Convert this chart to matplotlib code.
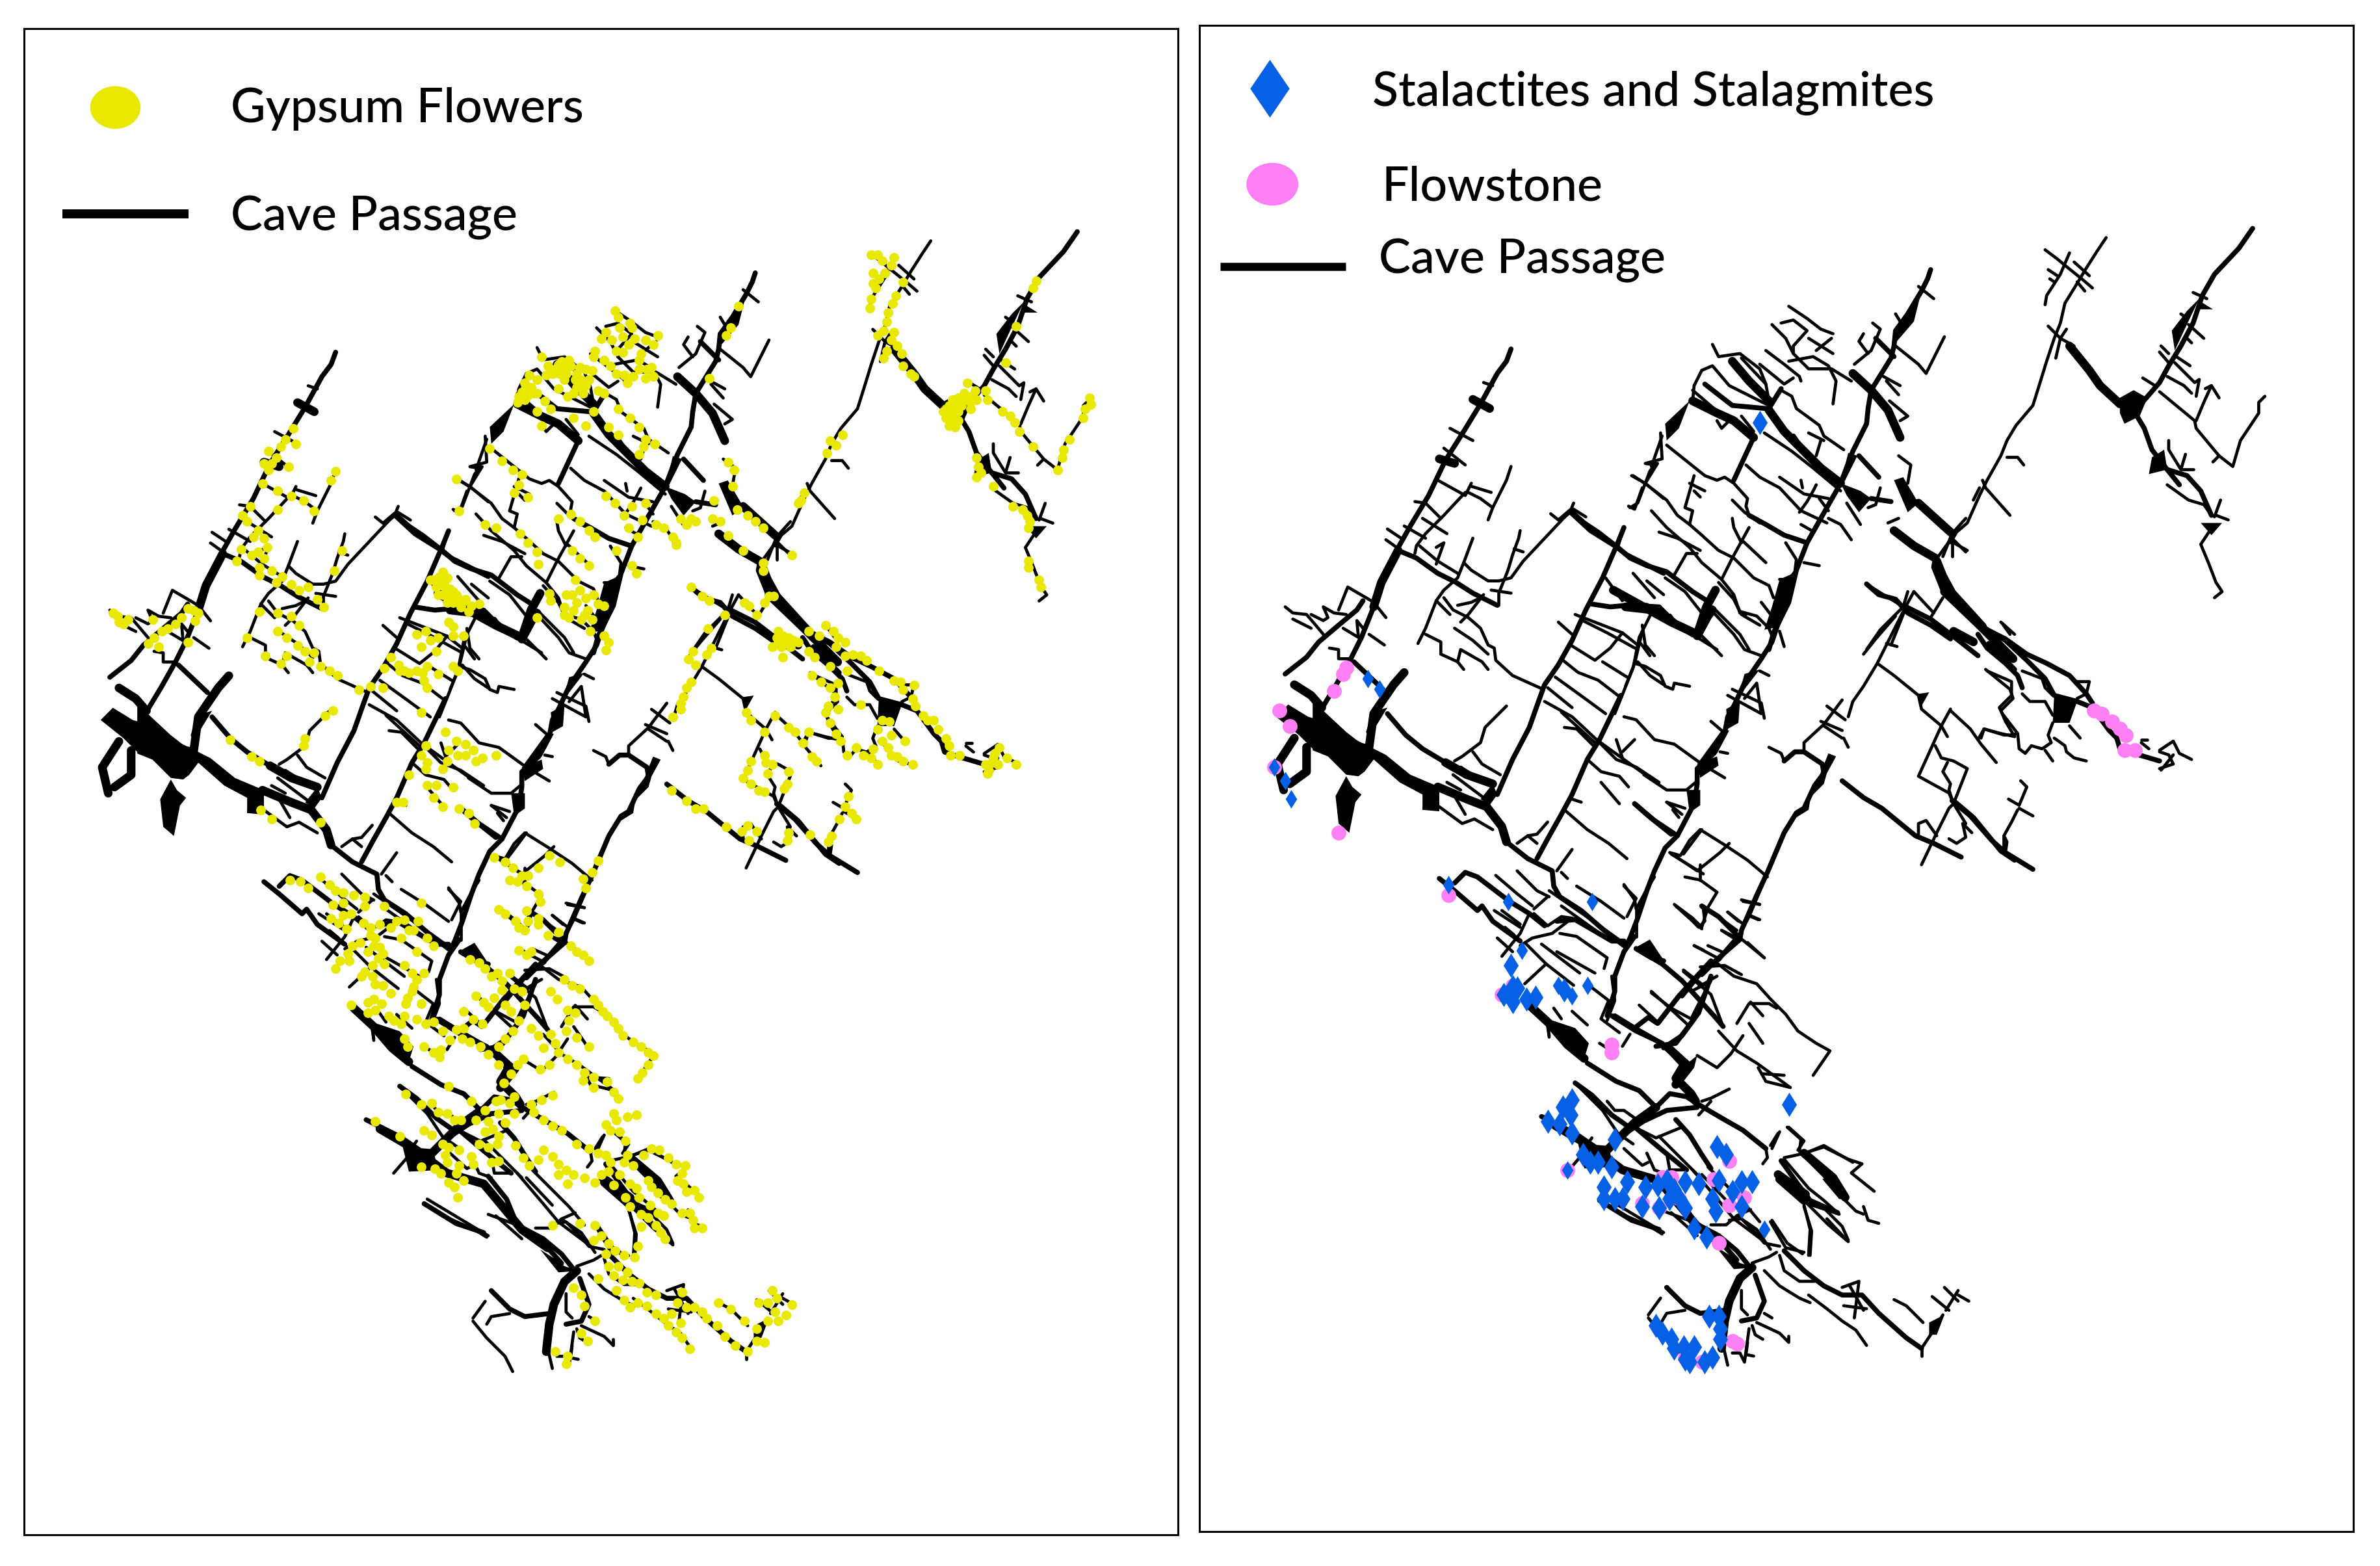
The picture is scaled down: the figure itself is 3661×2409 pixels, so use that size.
import matplotlib
matplotlib.use('Agg')
import matplotlib.pyplot as plt
from matplotlib.patches import Ellipse

plt.rcParams['font.family'] = ['Lato', 'DejaVu Sans']

# map coordinates, same for both panels
big_polygons = [
    [(66,472),(74,464),(87,472),(101,476),(112,484),(124,490),(138,497),(154,510),(173,518),(173,534),(162,533),(162,523),(147,515),(130,500),(124,508),(120,511),(108,500),(90,493),(81,484)],
    [(126,490),(139,500),(156,513),(172,518),(173,529),(162,533),(163,523),(156,519),(147,511),(139,503),(126,498),(120,511),(112,510),(100,498),(90,494),(90,461),(98,469),(112,482),(121,489)],
    [(112,511),(116,518),(122,523),(118,528),(114,548),(107,542),(105,524)],
    [(139,466),(131,479),(129,490),(125,482),(129,469)],
    [(489,193),(484,213),(472,227),(471,219)],
    [(441,299),(447,301),(438,319),(436,319)],
    [(471,317),(477,315),(487,332),(480,338)],
    [(396,382),(405,378),(402,399),(396,413),(386,415),(391,400)],
    [(436,319),(449,324),(456,329),(448,338),(440,327)],
    [(337,265),(330,283),(322,291),(321,280)],
    [(671,198),(661,219),(655,232),(653,219),(663,206)],
    [(671,205),(680,205),(672,200)],
    [(619,263),(628,258),(637,263),(632,275),(622,280),(619,273)],
    [(640,302),(648,297),(650,310),(638,313)],
    [(672,345),(686,345),(679,353)],
    [(373,444),(383,441),(373,454),(368,462)],
    [(361,467),(370,462),(369,476),(362,480)],
    [(358,481),(363,481),(355,496),(342,503)],
    [(342,503),(355,498),(356,504),(344,512)],
    [(344,520),(344,530),(337,535),(335,520)],
    [(428,496),(433,498),(427,509),(425,516),(417,524),(422,511)],
    [(409,533),(416,527),(415,533),(407,538)],
    [(487,457),(494,456),(489,465)],
    [(576,457),(591,462),(586,476),(575,476)],
    [(332,702),(342,694),(340,702),(333,711)],
    [(354,819),(365,826),(370,830),(380,833),(366,834)],
    [(424,775),(430,773),(440,789),(435,788)],
    [(494,869),(504,864),(499,877),(494,877)],
    [(302,623),(311,618),(321,633)],
    [(264,752),(285,758),(287,767),(268,768)],
    [(247,671),(262,676),(271,686),(268,696),(257,687)],
    [(208,516),(211,523),(206,530),(200,526)],
]

thick_passages = [
    [(78,486),(67,503),(71,520)],
    [(86,492),(86,508),(75,516)],
    [(78,451),(89,458),(96,466)],
    [(150,443),(143,451),(130,470),(127,492)],
    [(146,363),(135,384),(130,400)],
    [(436,319),(423,309),(410,296),(399,285),(389,271)],
    [(379,289),(366,278),(355,273),(339,265)],
    [(365,239),(376,252),(389,265)],
    [(444,247),(456,258),(467,271),(475,289)],
    [(471,350),(484,360),(498,368)],
    [(487,332),(508,351)],
    [(499,370),(503,380),(509,391),(529,413)],
    [(586,229),(599,245),(606,255),(619,267)],
    [(504,390),(526,411),(549,434)],
    [(354,389),(348,400),(342,418)],
    [(352,402),(349,406),(342,419)],
    [(232,661),(245,673),(257,687),(268,696)],
    [(315,728),(301,738),(283,756),(270,755)],
    [(378,833),(370,840),(363,855),(360,868),(358,886)],
    [(412,758),(431,774),(439,787)],
    [(395,772),(413,785)],
    [(396,775),(412,789)],
    [(195,264),(206,270)],
    [(173,303),(183,306)],
    [(510,416),(523,423)],
    [(295,400),(313,402),(326,410)],
    [(287,389),(325,410),(342,418)],
    [(334,699),(328,709),(338,719),(341,724)],
    [(172,518),(191,526),(204,531),(214,544),(217,554)],
    [(177,502),(191,510),(208,516)],
    [(249,740),(273,754),(293,769),(317,776),(342,806),(359,818)],
    [(323,689),(335,700)],
    [(335,700),(328,713)],
]

medium_passages = [
    [(220,231),(217,239),(211,247),(200,267),(189,285),(177,304),(166,327),(154,347),(145,363),(135,384),(130,400),(122,420),(115,434),(106,450),(97,465)],
    [(146,363),(158,368),(172,378),(184,384),(195,391),(211,399)],
    [(259,338),(272,350),(288,360),(296,366),(320,378)],
    [(294,348),(290,358),(280,381),(269,402),(260,422),(251,438),(242,451),(238,462),(232,479),(221,500),(211,523)],
    [(272,398),(285,400),(296,399),(309,399)],
    [(72,444),(86,433),(94,423),(107,412),(119,402),(123,396)],
    [(117,436),(136,454)],
    [(139,470),(151,484),(162,493),(177,502)],
    [(495,179),(493,185),(489,193),(480,208),(472,219),(471,229),(469,237),(456,258),(454,270),(453,280),(444,298),(436,319),(423,342),(414,358),(407,376),(402,397),(392,417),(389,428)],
    [(456,329),(469,331)],
    [(379,289),(366,317)],
    [(397,257),(389,270)],
    [(376,340),(387,346),(399,353),(414,358)],
    [(405,288),(412,298),(415,302),(422,307)],
    [(448,301),(461,315)],
    [(459,224),(471,236)],
    [(347,254),(365,268),(387,270)],
    [(252,343),(259,337),(268,345),(277,351),(290,361),(298,368),(309,373),(322,377),(339,390),(350,397)],
    [(299,399),(317,400),(329,412)],
    [(453,385),(461,392),(472,395),(480,404),(495,412),(508,421)],
    [(498,368),(497,374),(503,389)],
    [(706,152),(697,165),(681,182),(673,196),(667,214),(659,229),(651,242),(645,253),(632,268),(628,273)],
    [(629,273),(635,283),(640,297),(650,310),(658,320)],
    [(650,310),(663,314),(672,324),(679,340)],
    [(402,387),(396,408),(391,423),(384,434),(373,450),(366,465),(362,472),(360,483),(353,496),(342,506),(342,516),(340,529),(329,550),(321,558),(314,573),(309,586),(303,604),(298,617),(295,623)],
    [(324,406),(329,413),(342,419)],
    [(399,501),(406,495),(412,495),(424,503),(425,509),(419,517),(412,532),(407,535),(399,548),(388,574),(381,589),(371,612),(370,618),(355,631),(345,641)],
    [(437,514),(451,525),(463,532),(485,550),(497,555),(515,564)],
    [(510,527),(523,538),(541,560),(550,566)],
    [(479,400),(495,408),(512,421),(526,432)],
    [(533,424),(550,441)],
    [(534,416),(544,421),(558,431),(571,437),(586,445),(597,457),(601,463)],
    [(526,418),(532,427),(544,437),(552,445),(555,453)],
    [(529,413),(544,422),(558,435),(570,447),(576,458),(591,462),(601,466),(612,481),(617,486)],
    [(617,486),(619,493),(628,496),(645,501)],
    [(509,527),(521,537),(535,553),(544,561),(562,572)],
    [(301,529),(314,540),(329,550)],
    [(250,606),(262,605),(286,619),(294,619)],
    [(302,624),(319,634),(332,645),(353,668),(359,675)],
    [(301,616),(294,626),(288,642),(288,652),(283,668)],
    [(288,668),(301,676),(315,684),(324,691)],
    [(301,676),(310,669),(316,673),(330,655),(351,632)],
    [(369,616),(356,631),(345,639),(332,655)],
    [(315,688),(328,686),(340,670)],
    [(351,642),(343,666),(332,681),(320,689)],
    [(345,596),(356,603),(369,616)],
    [(270,699),(289,711),(304,717),(315,728)],
    [(341,725),(358,735),(372,743),(387,755)],
    [(315,728),(324,719),(335,721),(341,725)],
    [(262,712),(273,720),(286,733),(296,740)],
    [(328,736),(337,746),(345,759),(351,768)],
    [(278,789),(299,802),(317,808)],
    [(359,818),(368,828)],
    [(397,763),(407,777),(416,789),(434,797)],
    [(380,838),(386,855),(381,866),(371,868)],
    [(322,846),(334,858),(344,863),(360,861)],
    [(399,822),(412,835),(425,845),(437,851),(450,851),(461,863),(479,879),(489,886)],
    [(377,833),(369,840)],
    [(240,734),(262,745),(281,758)],
    [(300,740),(319,756),(335,769)],
    [(217,554),(231,565),(237,568),(247,573),(248,583),(252,590),(266,599),(281,612),(294,622)],
    [(237,565),(244,552),(253,536),(260,523),(270,500),(278,487),(292,458)],
    [(301,529),(310,537),(325,549)],
    [(173,578),(183,586),(198,599),(201,596),(208,606),(226,619)],
    [(183,581),(190,574),(198,577),(219,593),(232,601),(242,609)],
    [(302,624),(312,630),(320,632)],
    [(292,747),(307,737),(322,730),(342,728)],
    [(320,771),(332,786),(339,803),(356,812),(368,822),(376,832)],
    [(286,668),(302,678),(319,686),(332,700)],
]

thin_passages = [
    [(202,253),(208,255)],
    [(180,283),(195,291)],
    [(176,296),(190,307)],
    [(172,317),(190,327),(194,319)],
    [(190,325),(176,340),(164,352),(158,360),(157,365)],
    [(194,321),(207,325)],
    [(192,325),(200,329),(208,335)],
    [(220,308),(217,317),(208,335),(205,343)],
    [(157,331),(164,332),(174,342)],
    [(162,342),(178,352)],
    [(150,347),(164,355)],
    [(139,349),(148,355)],
    [(138,356),(145,361)],
    [(160,360),(172,370),(185,378)],
    [(171,361),(176,358),(171,372)],
    [(195,355),(189,371),(185,381),(176,389),(171,396),(164,414),(159,424)],
    [(189,371),(194,376),(205,383),(212,383),(220,381),(228,370),(259,337),(261,332)],
    [(226,350),(225,355),(221,366),(218,376),(212,391),(212,399)],
    [(228,364),(222,362)],
    [(220,391),(207,389)],
    [(246,339),(251,343)],
    [(261,336),(269,341)],
    [(299,314),(308,319),(320,329)],
    [(309,306),(316,306),(308,319),(303,332),(298,335)],
    [(312,308),(319,288)],
    [(176,394),(182,402),(192,407),(200,414),(205,425),(209,427),(210,435),(221,445),(241,454)],
    [(171,396),(180,405)],
    [(202,392),(192,405),(187,410)],
    [(185,399),(194,397),(200,394)],
    [(183,414),(195,422),(205,431)],
    [(164,418),(174,423),(174,431),(185,436),(189,441)],
    [(185,436),(187,428),(201,436),(205,441)],
    [(72,400),(77,404),(86,405),(92,412),(97,418)],
    [(77,408),(89,414)],
    [(89,405),(97,409),(100,407),(97,400),(104,404),(112,405)],
    [(107,402),(113,387),(125,394),(130,397),(138,407)],
    [(110,414),(120,420),(119,409),(123,414)],
    [(127,418),(137,425)],
    [(101,427),(107,428),(107,434),(115,434)],
    [(262,405),(293,417),(303,425)],
    [(267,409),(283,417),(303,428)],
    [(251,410),(260,418)],
    [(259,425),(275,435),(285,427),(293,417)],
    [(280,436),(296,446)],
    [(254,435),(264,443),(277,448),(290,458)],
    [(249,446),(267,459),(282,470)],
    [(244,453),(260,466)],
    [(282,381),(293,396)],
    [(309,383),(320,392)],
    [(300,378),(314,394)],
    [(306,412),(308,425),(314,432)],
    [(313,402),(304,420),(300,440),(288,470)],
    [(303,436),(311,445),(320,451)],
    [(322,294),(337,306),(347,314),(355,317),(360,315),(366,319),(375,329),(374,334),(376,340)],
    [(308,319),(311,311),(314,307),(308,306),(319,303),(318,286)],
    [(300,314),(309,320),(322,330),(329,340),(337,346),(345,353),(356,363),(366,368),(379,381),(389,386),(392,394)],
    [(306,322),(301,336),(297,334)],
    [(340,314),(334,335),(339,337),(337,346)],
    [(337,319),(347,324)],
    [(340,324),(344,328)],
    [(312,337),(322,348),(337,361),(345,371),(358,382)],
    [(317,351),(329,355),(344,363)],
    [(374,307),(383,315),(396,322),(410,337),(427,345)],
    [(396,315),(412,326),(428,329)],
    [(410,317),(411,322)],
    [(420,320),(418,324),(414,331),(409,338)],
    [(422,329),(428,337)],
    [(428,342),(436,346),(443,356)],
    [(410,346),(417,350)],
    [(397,258),(404,262),(407,270),(422,281),(425,288),(438,297)],
    [(415,286),(425,291)],
    [(423,291),(420,301)],
    [(386,286),(404,298),(418,309),(436,324)],
    [(472,229),(487,241),(492,247),(504,223)],
    [(464,249),(475,255)],
    [(466,252),(474,261)],
    [(468,265),(480,275),(475,278)],
    [(445,241),(456,232),(462,218),(457,214)],
    [(451,221),(448,226),(454,234)],
    [(472,208),(475,213)],
    [(487,190),(497,198)],
    [(402,203),(414,211),(423,218),(431,221)],
    [(391,215),(400,224),(405,234),(415,244),(430,244),(443,252)],
    [(397,214),(405,212),(414,219),(405,229),(405,234)],
    [(415,224),(431,234)],
    [(420,232),(430,224)],
    [(387,232),(399,241),(409,249),(410,252)],
    [(402,239),(418,236),(428,242),(433,252),(431,267)],
    [(352,228),(356,236),(370,234),(383,244),(387,254),(389,265)],
    [(345,245),(352,242),(363,255),(379,263),(389,268)],
    [(345,245),(340,255),(339,265),(350,271),(366,276)],
    [(339,258),(353,270)],
    [(371,237),(387,254)],
    [(383,241),(399,254),(405,250)],
    [(355,278),(358,283),(363,278)],
    [(371,275),(379,285)],
    [(290,361),(293,350)],
    [(327,379),(335,365),(342,365)],
    [(321,381),(334,390),(345,404),(343,417)],
    [(356,384),(366,395),(371,405),(383,412)],
    [(352,400),(370,418),(376,428)],
    [(329,412),(342,420),(355,428)],
    [(371,356),(387,371)],
    [(376,348),(365,368),(358,382)],
    [(365,342),(366,348),(371,358)],
    [(365,330),(373,338),(383,345)],
    [(400,358),(407,369),(406,377),(402,382),(396,382)],
    [(412,371),(422,373)],
    [(384,397),(394,410)],
    [(358,382),(366,392),(370,404),(374,405)],
    [(500,367),(508,356)],
    [(480,390),(477,400),(462,415),(453,428)],
    [(479,400),(469,425)],
    [(484,390),(497,404)],
    [(503,394),(495,407)],
    [(440,332),(449,346)],
    [(454,335),(459,333),(462,322)],
    [(467,345),(474,342)],
    [(474,301),(482,307),(480,319)],
    [(667,194),(676,198)],
    [(659,208),(663,211)],
    [(664,215),(674,224)],
    [(663,224),(666,227)],
    [(646,229),(651,234)],
    [(645,233),(651,240)],
    [(656,236),(665,242)],
    [(655,240),(668,253),(671,251),(669,262)],
    [(650,249),(661,255),(666,260)],
    [(634,250),(642,255)],
    [(645,259),(668,278),(669,283),(684,301),(693,308),(698,291),(710,273),(710,266),(714,262)],
    [(669,278),(674,266),(679,255),(684,263)],
    [(679,255),(675,257)],
    [(684,301),(680,305)],
    [(651,291),(651,297),(659,310),(662,300)],
    [(659,310),(667,310)],
    [(650,320),(664,330),(674,333),(679,340)],
    [(685,330),(681,341)],
    [(682,340),(690,343)],
    [(678,350),(672,359),(677,371),(682,384),(686,390),(681,394)],
    [(610,158),(604,167),(597,178),(591,188),(583,201),(580,214),(576,224),(571,239),(567,252),(562,268),(551,281),(545,291),(541,301),(532,317),(527,327),(519,345),(512,351),(508,358)],
    [(570,166),(578,172),(584,177),(594,185),(601,191)],
    [(586,168),(580,182),(571,196),(570,202)],
    [(572,179),(578,183)],
    [(573,185),(576,187)],
    [(589,174),(599,183)],
    [(591,187),(596,193)],
    [(572,216),(580,224),(589,229)],
    [(584,218),(580,224),(577,237)],
    [(545,302),(552,302),(556,307)],
    [(529,317),(531,322),(547,340)],
    [(527,322),(523,330)],
    [(510,358),(519,363)],
    [(509,353),(509,367)],
    [(352,403),(366,418),(373,428),(384,432)],
    [(383,442),(389,445)],
    [(396,416),(399,426)],
    [(362,458),(384,470),(381,450),(373,460)],
    [(365,454),(384,463),(386,473)],
    [(351,475),(358,481)],
    [(357,495),(362,496)],
    [(350,506),(360,512)],
    [(344,418),(358,432)],
    [(329,413),(339,419),(344,419)],
    [(301,437),(308,439),(318,445),(321,452),(326,454),(327,450),(337,452)],
    [(305,424),(311,432)],
    [(295,452),(301,437),(306,416)],
    [(365,393),(370,403),(381,406),(389,414),(391,419)],
    [(389,492),(397,496),(399,501)],
    [(412,494),(412,489),(425,477),(437,461)],
    [(438,486),(441,492)],
    [(427,465),(439,474)],
    [(423,475),(437,481)],
    [(425,478),(437,486)],
    [(441,472),(444,462),(451,452),(460,437),(478,401),(484,390)],
    [(451,431),(459,421),(472,406)],
    [(466,424),(473,426)],
    [(460,437),(471,445),(487,458),(489,467),(502,478),(487,511),(507,522),(510,529)],
    [(502,478),(506,485)],
    [(508,467),(502,478)],
    [(508,468),(521,480),(528,490),(538,502)],
    [(528,486),(530,480),(541,483),(550,485)],
    [(498,491),(502,499),(510,501),(519,506),(510,529)],
    [(506,502),(503,508),(508,516),(507,520),(510,529)],
    [(510,529),(507,532),(499,548),(489,569)],
    [(487,550),(487,542),(492,540),(499,550)],
    [(507,552),(512,555),(518,551),(516,542),(522,548)],
    [(510,529),(518,542)],
    [(543,550),(543,558)],
    [(531,441),(547,454),(549,460),(541,468),(544,475),(550,485)],
    [(541,410),(550,418)],
    [(453,385),(464,392),(474,398)],
    [(555,442),(568,447),(570,453),(575,458)],
    [(555,457),(560,462),(570,462),(575,471)],
    [(575,476),(572,484),(574,489),(568,493),(561,491),(557,496),(553,493),(552,483),(547,484),(543,484),(530,480),(526,487)],
    [(552,483),(542,470),(540,466),(548,458),(548,449),(532,442)],
    [(586,478),(593,486)],
    [(576,486),(583,491),(584,495),(589,499),(597,501)],
    [(570,494),(575,501)],
    [(591,460),(597,457),(599,449),(591,449)],
    [(542,411),(547,418)],
    [(633,487),(637,487)],
    [(633,489),(638,493)],
    [(645,494),(654,488),(658,496),(666,500)],
    [(645,506),(654,503),(651,497),(645,495)],
    [(646,507),(654,497)],
    [(552,533),(548,541),(543,550),(545,554),(544,561)],
    [(554,514),(558,518),(553,530),(546,526)],
    [(553,532),(562,537)],
    [(518,342),(509,352),(503,367)],
    [(508,354),(518,364)],
    [(322,528),(334,532)],
    [(326,533),(330,538)],
    [(344,546),(337,553),(331,563),(324,561),(342,573),(357,561),(363,555)],
    [(344,546),(360,556),(375,566),(388,577)],
    [(334,577),(344,579),(355,587),(349,597),(345,610),(339,604),(327,595)],
    [(344,569),(344,579)],
    [(371,592),(383,595)],
    [(376,602),(383,605)],
    [(362,600),(371,607)],
    [(345,597),(357,604),(368,612)],
    [(358,612),(370,618)],
    [(340,622),(357,631)],
    [(349,622),(358,626)],
    [(375,620),(386,630)],
    [(344,636),(360,635),(371,641)],
    [(217,465),(203,479),(200,489),(188,498),(183,501)],
    [(195,495),(201,503),(213,510)],
    [(187,505),(198,512)],
    [(182,510),(202,525)],
    [(178,515),(187,520)],
    [(173,531),(188,542),(196,539),(208,546)],
    [(183,524),(190,536)],
    [(224,555),(231,550),(237,555)],
    [(244,541),(237,549),(231,550)],
    [(242,462),(260,472),(276,487),(294,500),(315,515)],
    [(253,469),(275,489)],
    [(255,479),(263,480),(275,492)],
    [(278,489),(289,500),(302,505),(317,515)],
    [(294,472),(302,474),(314,487),(327,490),(345,503)],
    [(289,487),(294,502)],
    [(301,487),(293,495)],
    [(270,500),(279,508),(291,511),(297,518)],
    [(279,515),(291,529)],
    [(260,526),(266,528)],
    [(255,533),(270,546),(284,555),(296,565)],
    [(307,510),(322,520),(335,520),(341,515)],
    [(322,528),(332,536)],
    [(325,562),(346,575)],
    [(345,546),(333,562)],
    [(328,596),(345,611)],
    [(210,576),(224,588),(234,596)],
    [(224,573),(237,586),(245,590)],
    [(209,599),(226,610)],
    [(214,599),(226,608)],
    [(211,617),(221,626)],
    [(216,610),(222,615)],
    [(260,559),(250,573)],
    [(253,574),(257,578)],
    [(232,601),(226,614),(214,629)],
    [(244,590),(235,598)],
    [(245,586),(271,604),(292,619)],
    [(253,596),(281,616),(296,621)],
    [(263,583),(279,593),(294,604)],
    [(294,583),(302,591),(296,603)],
    [(235,601),(244,609),(253,603),(260,604)],
    [(260,604),(247,614),(234,617),(226,622)],
    [(252,614),(263,616),(283,630),(281,637)],
    [(250,626),(275,640)],
    [(240,621),(265,640)],
    [(230,621),(243,634),(261,648)],
    [(243,634),(229,647)],
    [(244,673),(245,682)],
    [(260,665),(270,674)],
    [(248,663),(253,670)],
    [(271,648),(284,658),(279,670),(291,679)],
    [(286,642),(288,658),(283,671)],
    [(304,661),(317,673),(330,656),(346,637)],
    [(312,652),(336,674)],
    [(333,638),(346,648)],
    [(340,622),(346,625)],
    [(312,653),(325,663),(338,670),(342,662),(351,645)],
    [(333,639),(351,654),(359,675)],
    [(342,694),(355,702),(364,693),(372,681)],
    [(356,678),(368,691),(381,699),(403,715)],
    [(382,702),(387,711),(403,715)],
    [(385,706),(399,707)],
    [(353,632),(366,642),(381,647),(390,657),(400,667),(408,678),(420,686),(429,691),(418,707)],
    [(368,673),(376,660),(389,660),(394,663)],
    [(376,673),(385,686)],
    [(377,659),(385,668)],
    [(328,596),(338,605),(343,610),(347,606),(346,598)],
    [(369,616),(386,630)],
    [(387,577),(376,603),(369,616)],
    [(372,593),(383,595)],
    [(375,602),(382,605)],
    [(362,600),(369,606)],
    [(358,612),(369,619)],
    [(343,649),(355,642)],
    [(338,652),(348,647)],
    [(294,582),(301,592),(302,598),(309,585),(314,577)],
    [(302,616),(302,598)],
    [(244,675),(245,681)],
    [(278,686),(286,691)],
    [(293,688),(298,680)],
    [(363,716),(351,722),(345,724)],
    [(351,724),(343,733)],
    [(283,724),(288,730),(294,730),(301,735)],
    [(273,748),(268,755)],
    [(299,740),(315,748),(332,741)],
    [(294,755),(306,766),(310,764)],
    [(309,758),(314,769),(322,772)],
    [(322,758),(324,769),(335,769)],
    [(325,797),(342,812)],
    [(351,805),(361,805),(368,799),(377,795)],
    [(368,799),(381,808),(390,821)],
    [(390,803),(400,820),(412,823)],
    [(412,792),(416,808),(415,825)],
    [(387,755),(388,761),(385,765)],
    [(395,745),(390,753)],
    [(399,761),(413,758),(425,753),(444,764)],
    [(402,741),(412,750),(408,756)],
    [(413,790),(428,805),(441,816)],
    [(378,830),(389,826),(394,823)],
    [(371,848),(371,860),(375,864)],
    [(318,853),(310,864)],
    [(310,866),(319,877),(331,889),(336,899)],
    [(319,868),(322,863),(334,861)],
    [(386,863),(391,866)],
    [(381,869),(396,876),(402,882),(402,878)],
    [(378,871),(380,877),(385,880)],
    [(376,873),(373,895),(370,889),(365,889)],
    [(375,882),(374,890),(379,891)],
    [(359,884),(362,897)],
    [(386,835),(396,845),(409,853),(416,856)],
    [(396,825),(399,835),(409,842),(419,842)],
    [(415,851),(427,860),(437,868),(446,874),(453,884)],
    [(437,846),(448,842),(445,866)],
    [(438,858),(453,860)],
    [(442,845),(451,861)],
    [(471,854),(479,858),(490,869)],
    [(489,886),(497,874),(503,864)],
    [(496,852),(507,861)],
    [(504,846),(513,855)],
    [(505,861),(513,848)],
    [(513,851),(520,855)],
    [(489,886),(489,891)],
    [(412,793),(417,809),(416,825)],
    [(414,791),(435,798)],
    [(422,791),(437,806),(441,815)],
    [(391,802),(401,817),(411,824)],
    [(396,744),(391,755)],
    [(401,741),(410,749),(409,757),(412,758),(425,754),(441,762),(450,765),(443,771),(458,783)],
    [(412,760),(425,773),(438,788),(446,796),(451,798)],
    [(451,793),(454,802),(461,804)],
    [(399,762),(415,781),(425,789),(435,798)],
    [(427,801),(440,815)],
    [(295,799),(311,806),(319,811)],
    [(363,802),(371,801),(381,811),(386,817),(396,819)],
    [(339,769),(356,789),(366,801),(386,816)],
    [(349,767),(373,791),(383,803)],
    [(345,772),(362,790)],
    [(320,796),(339,803)],
    [(258,769),(271,754)],
    [(263,713),(280,730),(290,745),(300,752)],
    [(280,786),(305,801),(320,810)],
    [(317,747),(342,772)],
]

# gypsum flower points by part of the cave
gypsum_west = [(74,402),(77,404),(78,408),(81,409),(84,406),(100,406),(97,422),(101,418),(106,414),(110,412),(115,409),(119,405),(123,399),(127,400),(130,402),(128,407),(123,421),(104,424),
    (192,281),(187,288),(194,291),(184,293),(176,296),(181,300),(178,304),(173,304),(176,308),(189,306),(172,317),(182,322),(191,325),(199,328),(206,335),(182,334),(220,309),(217,315),
    (164,332),(159,338),(162,342),(169,348),(166,352),(173,353),(175,359),(158,360),(169,362),(155,368),(165,364),(173,366),(170,372),(170,377),(178,374),(185,378),(181,382),(191,383),(196,387),(202,385),(208,393),(212,398),(224,361),(219,374),
    (170,401),(182,402),(191,404),(196,410),(162,418),(182,414),(188,418),(195,423),(200,427),(206,428),(203,434),(174,430),(188,430),(184,435),(210,437),(216,440),(221,443),(235,452),(243,450),(251,451),
    (218,466),(213,469),(200,484),(199,489),(151,485),(165,496),(170,499),(171,531),(178,537),(210,539)]

gypsum_centre = [(290,375),(282,380),(286,385),(291,382),(295,386),(290,390),(299,390),(305,393),(297,395),(302,398),(307,401),(314,396),(293,379),(288,383),(294,391),(285,380),(288,378),(292,385),(297,388),(301,393),(293,395),(287,390),(303,395),(309,397),
    (294,408),(297,411),(304,417),(273,416),(279,414),(282,420),(287,418),(297,417),(286,427),(276,424),
    (256,431),(252,438),(261,436),(265,440),(273,440),(280,437),(287,442),(297,437),(300,440),(278,446),(280,451),(276,467),(292,480),(262,440),(268,441),(277,441),
    (279,489),(276,495),(280,500),(279,504),(290,504),(293,499),(294,492),(299,486),(305,488),(305,495),(312,499),(325,495),(268,508),(280,515),(286,515),(297,516),(284,523),(290,529),(260,526),(264,526),(301,530),(307,533),(311,540),(310,492),(316,497),(300,495),
    (321,294),(329,302),(336,308),(342,311),(340,318),(337,323),(346,326),(299,314),(301,335),(318,344),(325,346),(341,350),(346,356),(352,362),(353,370),
    (366,340),(374,337),(380,342),(386,348),(390,352),(375,361),(380,366),(386,371),(404,361),(414,371),(417,376),
    (397,325),(403,330),(414,332),(409,338),(421,341),(423,330),(412,346),(418,352),(430,344),(435,346),(441,352),(443,356),
    (377,380),(371,390),(380,387),(389,390),(370,398),(378,395),(385,400),(396,397),(373,405),(381,406),(388,406),(387,414),(360,389),(361,394),(352,405),(396,417),(399,421),(397,426),(375,390),(384,392),(376,400),(392,396),(370,403),(383,403)]

gypsum_north = [(403,204),(405,208),(413,212),(406,215),(414,215),(397,218),(394,222),(401,223),(408,221),(416,222),(423,223),(431,220),(428,226),(412,226),(404,230),(408,231),(420,232),(390,230),(389,234),(396,236),(400,240),(419,236),(424,242),(404,245),(409,246),(419,242),(423,248),(415,247),(411,251),(428,247),
    (355,234),(359,240),(366,239),(373,236),(367,245),(371,245),(362,245),(378,245),(384,242),(388,243),(381,249),(370,249),(384,253),(378,254),(382,258),(392,256),(396,258),(347,246),(352,249),(344,251),(342,257),(350,258),(339,264),(344,262),(357,263),(361,268),(352,270),(355,279),(366,255),(372,260),(376,274),(384,279),(389,270),(405,268),(413,274),(419,280),(423,288),(422,293),(419,298),(429,291),(399,280),(405,285),
    (368,240),(372,241),(364,242),(368,237),(374,240),(380,241),(377,249),(381,254),(386,249),(376,258),(345,255),(348,254),(340,260),(346,259),(352,258),(358,246),
    (484,201),(479,215),(476,220),(465,248),(428,247),(427,241),(429,291)]

gypsum_northeast = [(571,167),(575,167),(578,171),(586,169),(584,174),(580,179),(572,179),(576,183),(572,186),(574,189),(592,185),(571,196),(570,202),(587,194),(585,199),(582,205),(581,211),(579,217),(586,218),(575,220),(584,223),(588,227),(581,230),(591,232),(579,235),(592,240),(597,245),(599,247),
    (622,266),(628,261),(620,274),(625,272),(630,266),(636,264),(622,279),(639,256),(646,256),(634,251),(647,262),(636,268),(657,270),(662,273),(665,277),(668,283),(677,293),(666,214),(679,184),(677,189),(659,238),(714,261),(711,268),(715,265),(710,274),(701,288),(697,295),(696,300),(693,308),
    (624,262),(626,266),(622,270),(628,270),(632,262),(632,258),(636,260),(628,276),(624,275),(626,280),(640,262),(618,270),(620,268),
    (640,300),(641,306),(640,313),(643,310),(651,319),(664,332),(670,334),(673,338),(675,342),(674,346),(674,368),(674,372),(681,380),(682,385),
    (552,285),(548,292),(544,289),(542,297),(527,323),(525,328),(523,330)]

gypsum_east = [(477,303),(481,308),(480,319),(468,328),(483,334),(490,338),(495,342),(500,346),(519,364),(467,340),(472,342),(477,351),(487,361),(500,369),(500,374),
    (446,340),(450,344),(453,340),(456,342),(443,357),
    (453,385),(460,391),(465,394),(475,403),(488,395),(491,397),(496,403),(501,395),(504,391),(507,391),
    (464,412),(454,427),(451,432),(456,436),(466,425),(463,429),(453,447),(450,451),(448,457),(446,461),(446,465),(441,470),
    (509,418),(513,417),(517,418),(523,421),(506,424),(513,431),(530,414),(537,417),(541,410),(546,414),(549,418),(554,421),(530,427),(534,431),(544,437),(548,424),(554,430),(559,429),(564,430),(568,433),(576,440),(586,446),(590,447),(592,452),(599,449),(598,458),(600,463),(605,469),(612,472),(615,478),(620,484),(622,489),(623,495),(629,495),(646,501),(651,497),(655,490),(654,501),(660,497),(666,501),(647,507),(510,421),(515,421),(520,420),(512,424),(518,424),(510,414),(650,500),(652,494),(648,505),(608,472),
    (532,443),(538,447),(544,451),(549,448),(547,457),(543,463),(549,465),(541,467),(544,474),(548,481),(551,486),(555,495),(561,490),(566,495),(571,497),(575,501),(572,491),(564,462),(555,440),
    (578,472),(583,473),(575,478),(584,482),(578,486),(582,490),(584,495),(588,496),(593,486),(592,499),(598,501),
    (489,467),(492,472),(508,469),(501,480),(517,477),(521,480),(526,487),(530,480),(532,496),(535,499),
    (501,495),(502,500),(506,501),(503,507),(492,499),(490,505),(487,510),(517,506),(516,514),(514,517),(492,514),(497,518),(501,519),
    (440,518),(450,525),(456,530),(461,530),(476,542),(490,541),(486,545),(496,545),(491,551),(556,522),(554,529),(558,533),(561,537),(550,537),(545,548),(543,552),(531,547),(517,546),(516,551)]

gypsum_south = [(190,577),(197,578),(202,582),(210,575),(216,580),(220,584),(225,585),(218,593),(225,592),(225,600),(230,599),(232,587),(239,588),(239,594),(252,594),(217,602),(222,605),(227,609),(238,605),(243,608),(249,606),(256,608),(260,604),(265,603),(274,604),(276,592),(268,610),(271,610),(263,615),(280,615),(284,620),(273,624),(243,613),(236,618),(231,620),(246,615),(245,620),(249,621),(228,625),(241,624),(251,625),(248,628),(229,630),(223,630),(220,635),(244,633),(252,632),(265,633),(239,637),(237,640),(244,640),(270,638),(278,638),(273,642),(246,645),(251,646),(256,651),(271,647),(270,650),(267,654),(266,658),(276,658),(245,655),(241,657),(250,658),(230,659),(241,664),(246,662),(255,666),(258,669),(265,666),(263,671),(273,668),(279,671),(284,670),(290,676),(299,675),(304,674),(295,682),(303,681),(308,683),(315,686),(320,691),(327,698),(265,681),(267,686),(278,686),(284,690),(289,688),(288,693),
    (294,712),(309,722),(266,717),(276,724),(283,723),(287,729),(293,730),(298,734),(302,734),(312,734),(318,728),(325,722),(328,721),(334,723),(337,719),(327,730),(337,730),(320,735),(331,736),(323,740),(318,742),(327,745),(314,750),(320,752),(326,750),(338,751),(322,762),(327,761),(343,759),(347,764),(353,760),(356,754),
    (246,735),(262,745),(278,741),(283,744),(290,750),(294,752),(301,754),(309,758),(310,763),(292,757),(293,762),(301,764),(285,766),(276,765),(289,769),(299,769),(304,774),(294,775),(298,778),(300,785),
    (362,803),(380,802),(390,803),(394,810),(389,813),(399,815),(418,817),(416,824),(409,823),(403,820),(397,822),(399,830),(392,838),(405,830),(411,834),(402,836),(408,839),(414,840),(419,841),(424,847),(404,846),(430,849),(409,852),(413,857),(418,854),(424,856),(430,861),(435,864),(438,869),(443,873),(447,877),(452,884),(444,854),(447,847),(450,857),(440,861),(446,867),(455,857),(460,860),(463,864),(470,869),(475,876),(482,882),(471,854),(479,858),(488,866),(496,871),(496,879),(501,880),(490,886),(503,866),(506,846),(497,854),(503,854),(509,851),(519,855),(508,860),(515,862),(510,866),
    (376,844),(381,849),(383,856),(390,866),(381,874),(385,879),(364,886),(372,889),(371,894),
    (324,562),(331,565),(336,569),(342,574),(346,574),(353,569),(360,561),(367,565),(334,577),(339,578),(345,581),(353,586),(354,591),(382,576),(384,582),(388,572),(392,564),(327,596),(331,599),(338,604),(340,608),(344,610),(346,604),(345,597),(353,602),(353,606),(359,613),(366,611),(340,623),(345,626),(348,624),(374,620),(378,624),(382,626),(386,630),(308,629),(314,631),(318,635),(322,640),(326,638),(334,638),(329,643),(370,642),(375,646),(380,648),(361,650),(365,655),(372,662),(377,664),(389,655),(392,659),(395,663),(398,666),(402,670),(405,674),(408,679),(415,683),(420,686),(425,690),(428,692),(425,698),(421,703),(418,707),
    (312,653),(317,657),(320,660),(324,654),(329,649),(337,648),(342,650),(331,659),(344,659),(304,663),(310,668),(316,671),(335,663),(340,669),(336,676),(331,681),(327,686),(348,674),(353,679),(361,678),(356,687),(364,684),(371,676),(373,669),(378,680),(386,686),(366,690),(372,694),(360,698),(354,701),(343,694),(339,698),(335,704),(330,710),
    (378,698),(383,703),(382,708),(389,706),(389,713),(398,709),(402,716),(405,720),(402,730),(404,734),(411,732),(417,731),(397,737),(400,741),(406,742),(410,748),(411,757),(409,762),(415,764),(422,757),(427,753),(432,754),(438,759),(443,763),(449,764),(447,769),(444,774),(448,776),(450,781),(455,780),(458,785),(447,795),(452,795),(454,800),(455,805),(460,805),
    (378,750),(386,753),(392,756),(397,757),(400,762),(406,770),(399,768),(394,770),(390,775),(402,777),(413,776),(417,779),(419,785),(425,774),(427,778),(431,782),(436,786),(440,789),(410,785),(413,791),(426,790),(431,795),(435,797),(420,796),(425,798),(430,803),(420,804),(433,808),(436,812),
    (362,758),(366,763),(366,770),(371,767),(376,770),(383,772),(372,776),(356,734),(362,738),(368,741),(350,729),(348,724),(355,721),(362,718)]

# with an offset of about 3 map units, see map_shift
speleothem_small = [(176,582),(215,593),(270,593),(224,625),(254,769),(267,648),(123,447),(131,454),(62,505),(69,514),(73,526),(383,808),(248,648),(257,655)]
speleothem_large = [(217,635),(212,654),(218,649),(221,650),(218,659),(227,657),(233,656),(252,651),(380,279),
    (257,723),(251,728),(256,733),(241,737),(249,739),(257,745),(285,749),(399,726),
    (264,759),(269,764),(274,764),(283,767),(293,777),(278,780),(278,788),(285,788),(290,788),(305,780),(303,793),(314,794),(313,779),(319,776),(324,782),(331,777),(327,788),(331,794),(321,788),(340,778),(349,788),(351,796),(337,807),(345,813),(352,754),(358,759),(353,776),(368,777),(375,777),(362,783),(368,793),
    (312,871),(316,876),(322,880),(324,886),(330,885),(337,885),(331,893),(334,895),(344,895),(349,892),(347,865),(353,865),(354,873),(354,880)]
flowstone = [(176,589),(211,654),(218,648),(283,687),(283,692),(254,769),(360,763),(303,791),(316,774),(322,774),(314,794),(350,775),(360,792),(370,787),(353,817),(362,881),(365,883),(331,892),(342,895),(327,788),
    (109,440),(107,444),(101,455),(65,468),(72,478),(62,505),(104,548),
    (599,468),(604,470),(611,475),(616,480),(620,484),(619,494),(626,494)]
map_shift = 3

diamond = [(0, 1), (0.62, 0), (0, -1), (-0.62, 0)]


def draw_cave(ax):
    # passages go under the points
    for poly in big_polygons:
        ax.fill([p[0] for p in poly], [p[1] for p in poly], color='black', lw=0, zorder=1)
    for lines, w in ((thick_passages, 9.5), (medium_passages, 5.5), (thin_passages, 3.4)):
        for line in lines:
            ax.plot([p[0] for p in line], [p[1] for p in line], color='black', lw=w,
                    solid_capstyle='round', solid_joinstyle='round', zorder=1)


def setup(rect):
    ax = fig.add_axes(rect)
    ax.set_xlim(15.8, 772)
    ax.set_ylim(1006, 18.9)
    ax.set_xticks([])
    ax.set_yticks([])
    for s in ax.spines.values():
        s.set_linewidth(2.2)
    return ax


W, H = 3662, 2409
fig = plt.figure(figsize=(36.62, 24.09), dpi=100)
left = setup([37 / W, 1 - 2361 / H, 1775 / W, 2317 / H])
right = setup([1845 / W, 1 - 2356 / H, 1775 / W, 2317 / H])

draw_cave(left)
draw_cave(right)

yellow = '#E8E800'
blue = '#0560E6'
pink = '#FF80F5'

gypsum = gypsum_west + gypsum_centre + gypsum_north + gypsum_northeast + gypsum_east + gypsum_south
left.scatter([p[0] for p in gypsum], [p[1] for p in gypsum], s=115, color=yellow, lw=0, zorder=2)

right.scatter([p[0] + map_shift for p in flowstone], [p[1] for p in flowstone], s=270, color=pink, lw=0, zorder=2)
right.scatter([p[0] + map_shift for p in speleothem_small], [p[1] for p in speleothem_small], s=420, marker=diamond, color=blue, lw=0, zorder=3)
right.scatter([p[0] + map_shift for p in speleothem_large], [p[1] for p in speleothem_large], s=720, marker=diamond, color=blue, lw=0, zorder=3)

# hand made legends
fs = 53
left.add_patch(Ellipse((75.6, 70.6), 33, 28, color=yellow, lw=0))
left.plot([40.8, 123.4], [140.3, 140.3], color='black', lw=10, solid_capstyle='butt')
left.text(151.3, 71.5, 'Gypsum Flowers', fontsize=fs, va='center', fontweight='medium')
left.text(151.3, 143, 'Cave Passage', fontsize=fs, va='center', fontweight='medium')

right.scatter([62], [60.4], s=4100, marker=[(0, 1), (0.68, 0), (0, -1), (-0.68, 0)], color=blue, lw=0)
right.add_patch(Ellipse((63.6, 123), 34, 28, color=pink, lw=0))
right.plot([29.6, 111.7], [176.8, 176.8], color='black', lw=9, solid_capstyle='butt')
right.text(129.2, 63, 'Stalactites and Stalagmites', fontsize=fs, va='center', fontweight='medium')
right.text(135.1, 125, 'Flowstone', fontsize=fs, va='center', fontweight='medium')
right.text(133.2, 173, 'Cave Passage', fontsize=fs, va='center', fontweight='medium')

fig.savefig('out.png', dpi=100)
